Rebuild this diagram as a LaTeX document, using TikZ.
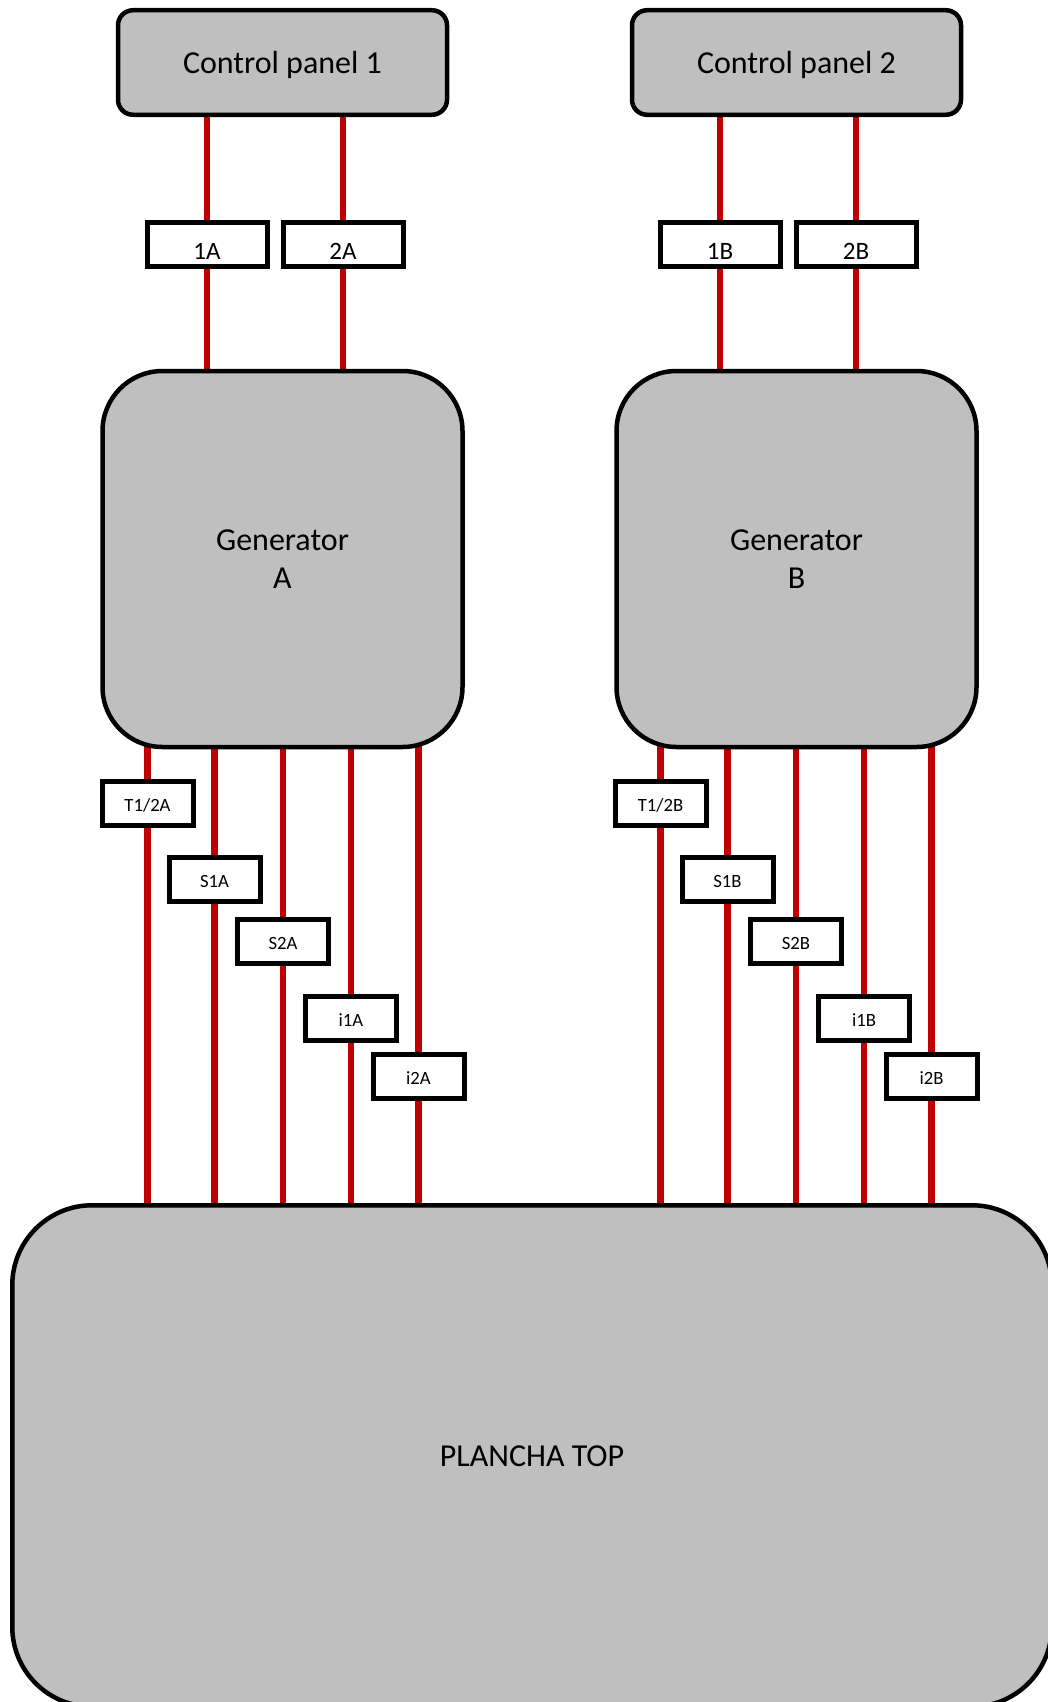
\documentclass[tikz,border=0pt]{standalone}
\usepackage{fontspec}
\setmainfont{Carlito}
\usetikzlibrary{backgrounds}
\definecolor{fil}{HTML}{C00000}
\definecolor{boite}{HTML}{BFBFBF}
\begin{document}
\begin{tikzpicture}[x=1pt,y=-1pt]  % 1pt = 1 pixel de l'image
\tikzstyle{panneau}=[draw,line width=4.5pt,fill=boite,rounded corners=15pt,minimum width=329pt,minimum height=104.5pt,text depth=0pt,font=\fontsize{32}{38}\selectfont]
\tikzstyle{generateur}=[draw,line width=4.5pt,fill=boite,rounded corners=60pt,minimum width=360pt,minimum height=376pt,align=center,font=\fontsize{32}{38}\selectfont]
\tikzstyle{plaque}=[draw,line width=4.5pt,fill=boite,rounded corners=80pt,minimum width=1039.5pt,minimum height=501.5pt,font=\fontsize{32}{38}\selectfont]
\tikzstyle{grandeboite}=[draw,line width=5pt,fill=white,inner sep=0pt,minimum width=120pt,minimum height=44pt,text height=30pt,text depth=0pt,font=\fontsize{25}{30}\selectfont]
\tikzstyle{petiteboite}=[draw,line width=5pt,fill=white,inner sep=0pt,minimum width=91pt,minimum height=44pt,text height=16pt,text depth=0pt,font=\fontsize{18.7}{22}\selectfont]
\tikzstyle{fil}=[draw=fil,line width=6.5pt]
\useasboundingbox (0,0) rectangle (1047,1702);

% panneaux de commande
\node[panneau] (cp1) at (282.5,62.5) {Control panel 1};
\node[panneau] (cp2) at (796.5,62.5) {Control panel 2};
\node[grandeboite] (b1A) at (207,244.5) {1A};
\node[grandeboite] (b2A) at (343,244.5) {2A};
\node[grandeboite] (b1B) at (720,244.5) {1B};
\node[grandeboite] (b2B) at (856,244.5) {2B};

% generateurs
\node[generateur] (genA) at (282.5,559) {Generator\\A};
\node[generateur] (genB) at (796.5,559) {Generator\\B};
\node[petiteboite] (tA) at (147.5,803.5) {T1/2A};
\node[petiteboite] (s1A) at (214.5,879) {S1A};
\node[petiteboite] (s2A) at (283,941) {S2A};
\node[petiteboite] (i1A) at (351,1018) {i1A};
\node[petiteboite] (i2A) at (418.5,1076) {i2A};
\node[petiteboite] (tB) at (660.5,803.5) {T1/2B};
\node[petiteboite] (s1B) at (727.5,879) {S1B};
\node[petiteboite] (s2B) at (796,941) {S2B};
\node[petiteboite] (i1B) at (864,1018) {i1B};
\node[petiteboite] (i2B) at (931.5,1076) {i2B};

\node[plaque] (plancha) at (532,1456) {PLANCHA TOP};

% les fils, sous les boites
\begin{scope}[on background layer]
\draw[fil] (cp1 -| b1A) -- (genA -| b1A);
\draw[fil] (cp1 -| b2A) -- (genA -| b2A);
\draw[fil] (cp2 -| b1B) -- (genB -| b1B);
\draw[fil] (cp2 -| b2B) -- (genB -| b2B);
\draw[fil] (genA -| tA) -- (plancha -| tA);
\draw[fil] (genA -| s1A) -- (plancha -| s1A);
\draw[fil] (genA -| s2A) -- (plancha -| s2A);
\draw[fil] (genA -| i1A) -- (plancha -| i1A);
\draw[fil] (genA -| i2A) -- (plancha -| i2A);
\draw[fil] (genB -| tB) -- (plancha -| tB);
\draw[fil] (genB -| s1B) -- (plancha -| s1B);
\draw[fil] (genB -| s2B) -- (plancha -| s2B);
\draw[fil] (genB -| i1B) -- (plancha -| i1B);
\draw[fil] (genB -| i2B) -- (plancha -| i2B);
\end{scope}
\end{tikzpicture}
\end{document}
